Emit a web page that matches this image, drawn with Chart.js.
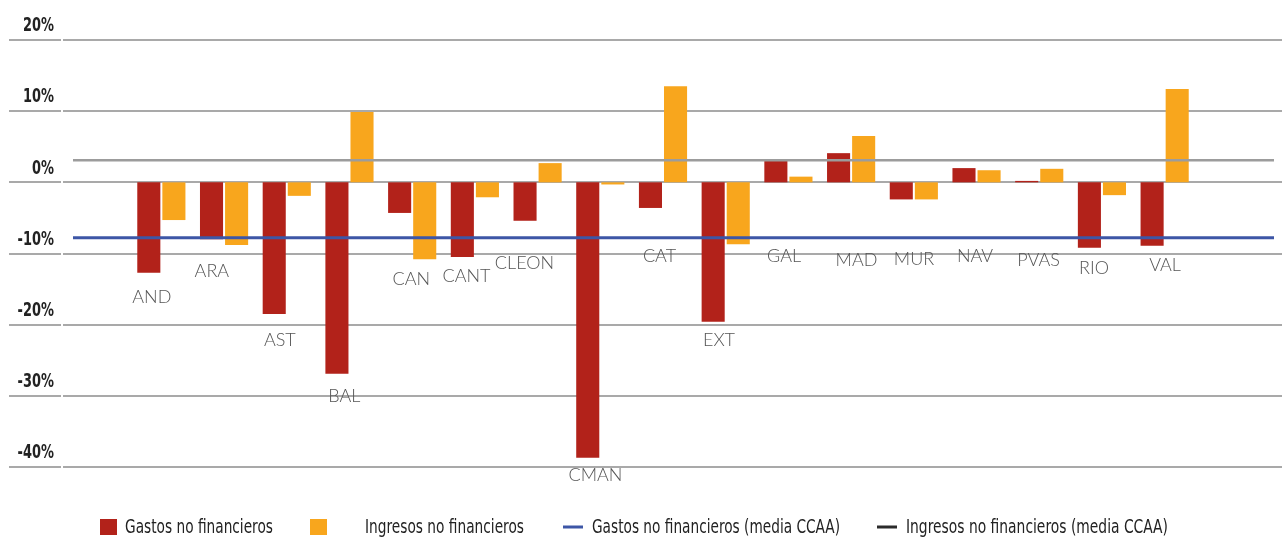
<!DOCTYPE html>
<html>
<head>
<meta charset="utf-8">
<script src="https://cdn.jsdelivr.net/npm/chart.js@4.4.1/dist/chart.umd.min.js"></script>
<style>
  html, body { margin: 0; padding: 0; background: #ffffff; }
  #wrap { width: 1282px; height: 538px; position: relative; }
</style>
</head>
<body>
<div id="wrap"><canvas id="chart" width="1282" height="538"></canvas></div>
<script>
// Comunidades autónomas
const categories = ['AND', 'ARA', 'AST', 'BAL', 'CAN', 'CANT', 'CLEON', 'CMAN', 'CAT',
                    'EXT', 'GAL', 'MAD', 'MUR', 'NAV', 'PVAS', 'RIO', 'VAL'];

// Variación (%) de gastos e ingresos no financieros
const gastosNoFinancieros   = [-12.7, -8.0, -18.5, -26.9, -4.3, -10.5, -5.4, -38.7, -3.6,
                               -19.6, 3.0, 4.1, -2.4, 2.0, 0.2, -9.2, -8.9];
const ingresosNoFinancieros = [-5.3, -8.8, -1.9, 9.9, -10.8, -2.1, 2.7, -0.3, 13.5,
                               -8.7, 0.8, 6.5, -2.4, 1.7, 1.9, -1.8, 13.1];

// Medias del conjunto de CCAA
const mediaGastos   = -7.8;
const mediaIngresos = 3.1;

// Eje vertical
const yTicks = [20, 10, 0, -10, -20, -30, -40];

// Colocación de los rótulos de cada comunidad (nivel en % y desplazamiento horizontal)
const labelLevel   = [-16.2, -12.5, -22.2, -30.1, -13.6, -13.2, -11.4, -41.2, -10.4,
                      -22.2, -10.4, -11.0, -10.8, -10.4, -11.0, -12.0, -11.7];
const labelShiftPx = [-9.5, -12.2, -6.9, -5.1, -0.8, -8.4, -13.1, -4.8, -3.5,
                      -6.7, -4.4, 5.4, 0.2, -1.5, -0.7, -7.9, 0.4];

const RED = '#b2221a';
const ORANGE = '#f8a61d';
const BLUE = '#3d56a6';
const MEDIA_GRAY = '#9c9c9c';
const GRID = '#a9a9a9';
const SANS = '"DejaVu Sans", "Liberation Sans", sans-serif';

// Texto estrechado horizontalmente hasta una anchura dada
function condensedText(ctx, text, x, y, width, align) {
  const w = ctx.measureText(text).width;
  const k = width / w;
  ctx.save();
  ctx.textAlign = 'left';
  const left = align === 'right' ? x - width : x;
  ctx.translate(left, y);
  ctx.scale(k, 1);
  ctx.fillText(text, 0, 0);
  ctx.restore();
}

// Líneas horizontales de la cuadrícula, a todo el ancho, y etiquetas del eje
const gridPlugin = {
  id: 'fullGrid',
  beforeDatasetsDraw(chart) {
    const { ctx } = chart;
    const y = chart.scales.y;
    ctx.save();
    ctx.strokeStyle = GRID;
    ctx.lineWidth = 2;
    y.ticks.forEach(t => {
      const py = Math.round(y.getPixelForValue(t.value));
      ctx.beginPath();
      ctx.moveTo(9, py);
      ctx.lineTo(61, py);
      ctx.moveTo(63, py);
      ctx.lineTo(chart.width, py);
      ctx.stroke();
    });

    ctx.fillStyle = '#222222';
    ctx.font = 'bold 20px ' + SANS;
    ctx.textBaseline = 'middle';
    const k = 31 / ctx.measureText('20%').width;
    y.ticks.forEach(t => {
      const text = t.value + '%';
      const py = y.getPixelForValue(t.value) - 14;
      const w = ctx.measureText(text).width * k;
      condensedText(ctx, text, 54, py, w, 'right');
    });
    ctx.restore();
  }
};

// Medias CCAA, rótulos de las comunidades y leyenda
const overlayPlugin = {
  id: 'overlay',
  afterDatasetsDraw(chart) {
    const { ctx } = chart;
    const x = chart.scales.x;
    const y = chart.scales.y;
    ctx.save();
    const drawMedia = (value, color, width) => {
      const py = y.getPixelForValue(value);
      ctx.strokeStyle = color;
      ctx.lineWidth = width;
      ctx.beginPath();
      ctx.moveTo(73, py);
      ctx.lineTo(1274, py);
      ctx.stroke();
    };
    drawMedia(mediaIngresos, MEDIA_GRAY, 2.5);
    drawMedia(mediaGastos, BLUE, 3);

    ctx.fillStyle = '#555555';
    ctx.font = '300 18px Lato, "Open Sans", sans-serif';
    ctx.textAlign = 'center';
    ctx.textBaseline = 'middle';
    categories.forEach((name, i) => {
      const px = x.getPixelForValue(i) + labelShiftPx[i];
      const py = y.getPixelForValue(labelLevel[i]);
      ctx.fillText(name, px, py);
    });
    ctx.restore();
  },
  afterDraw(chart) {
    const { ctx } = chart;
    ctx.save();
    const cy = 527;
    ctx.font = '19px ' + SANS;
    ctx.textBaseline = 'middle';
    const items = [
      { type: 'box', color: RED, x: 100, tx: 125, w: 148, text: 'Gastos no financieros' },
      { type: 'box', color: ORANGE, x: 310, tx: 365, w: 159, text: 'Ingresos no financieros' },
      { type: 'line', color: BLUE, x: 563, tx: 592, w: 248, text: 'Gastos no financieros (media CCAA)' },
      { type: 'line', color: '#2b2b2b', x: 877, tx: 906, w: 262, text: 'Ingresos no financieros (media CCAA)' }
    ];
    items.forEach(it => {
      if (it.type === 'box') {
        ctx.fillStyle = it.color;
        ctx.fillRect(it.x, cy - 8, 17, 16);
      } else {
        ctx.strokeStyle = it.color;
        ctx.lineWidth = 3;
        ctx.beginPath();
        ctx.moveTo(it.x, cy);
        ctx.lineTo(it.x + 20, cy);
        ctx.stroke();
      }
      ctx.fillStyle = '#222222';
      condensedText(ctx, it.text, it.tx, cy + 1, it.w, 'left');
    });
    ctx.restore();
  }
};

new Chart(document.getElementById('chart'), {
  type: 'bar',
  data: {
    labels: categories,
    datasets: [
      {
        label: 'Gastos no financieros',
        data: gastosNoFinancieros,
        backgroundColor: RED,
        borderWidth: 0,
        categoryPercentage: 0.8,
        barPercentage: 0.92
      },
      {
        label: 'Ingresos no financieros',
        data: ingresosNoFinancieros,
        backgroundColor: ORANGE,
        borderWidth: 0,
        categoryPercentage: 0.8,
        barPercentage: 0.92
      }
    ]
  },
  options: {
    responsive: false,
    animation: false,
    layout: { padding: { top: 40, bottom: 71, left: 0, right: 86 } },
    plugins: {
      legend: { display: false },
      tooltip: { enabled: false }
    },
    scales: {
      x: { display: false },
      y: {
        min: -40,
        max: 20,
        afterFit(scale) { scale.width = 130; },
        afterBuildTicks(scale) { scale.ticks = yTicks.map(v => ({ value: v })); },
        grid: { display: false, drawTicks: false },
        border: { display: false },
        ticks: { display: false }
      }
    }
  },
  plugins: [gridPlugin, overlayPlugin]
});
</script>
</body>
</html>
